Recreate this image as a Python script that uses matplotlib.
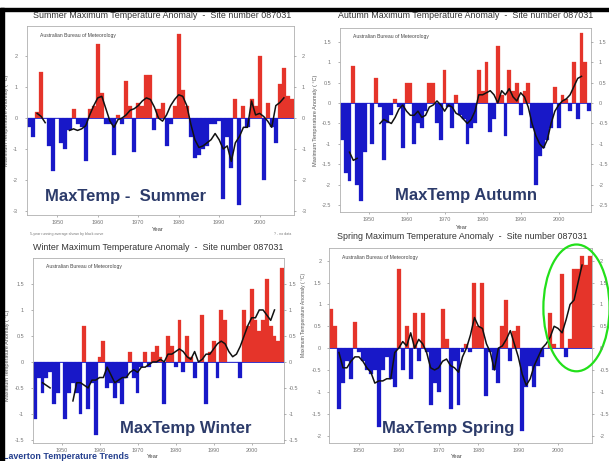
import numpy as np
import matplotlib
matplotlib.use("Agg")
import matplotlib.pyplot as plt
from matplotlib.patches import Ellipse, Rectangle

plt.rcParams['font.family'] = ['Liberation Sans', 'DejaVu Sans']

years = np.arange(1943, 2009)

summer = [-0.3, -0.6, 0.2, 1.5, 0.0, -0.9, -1.7, 0.0, -0.8, -1.0,
          -0.4, 0.3, -0.2, -0.3, -1.4, 0.3, 0.4, 2.4, 0.8, -0.2,
          -0.2, -1.2, 0.1, -0.2, 1.2, 0.4, -1.1, 0.5, 0.4, 1.4,
          1.4, -0.4, 0.3, 0.5, -0.9, -0.2, 0.4, 2.7, 0.9, 0.4,
          -0.6, -1.3, -1.2, -1.0, -0.9, -0.2, -0.2, -0.1, -2.6, -0.6,
          -1.6, 0.6, -2.8, 0.4, -0.3, 0.6, 0.4, 2.0, -2.0, 0.5,
          -0.3, -0.8, 1.1, 1.6, 0.7, 0.6]
autumn = [-0.9, -1.7, -1.9, 0.9, -2.0, -2.4, -1.2, 0.0, -1.0, 0.6,
          -0.1, -1.4, -0.5, -0.3, 0.1, -0.1, -1.1, 0.5, 0.5, -1.0,
          -0.5, -0.6, -0.2, 0.5, 0.5, -0.5, -0.9, 0.8, -0.1, -0.6,
          0.2, -0.3, -0.4, -1.0, -0.6, -0.5, 0.8, 0.3, 1.0, -0.7,
          -0.4, 1.4, 0.2, -0.8, 0.8, 0.3, 0.5, -0.3, 0.3, 0.5,
          -0.6, -2.0, -1.3, -1.1, -0.9, -0.6, 0.4, -0.6, 0.2, 0.1,
          -0.2, 1.0, -0.4, 1.7, 1.0, -0.2]
winter = [-1.1, -0.3, -0.6, -0.3, -0.2, -0.8, -0.6, 0.0, -1.1, -0.6,
          -0.4, -0.6, -1.0, 0.7, -0.9, -0.4, -1.4, 0.1, 0.4, -0.5,
          -0.4, -0.7, -0.4, -0.8, -0.3, 0.2, -0.3, -0.6, -0.1, 0.2,
          -0.1, 0.2, 0.3, 0.1, -0.8, 0.5, 0.3, -0.1, 0.8, -0.2,
          0.5, 0.1, -0.3, 0.0, 0.9, -0.8, 0.2, 0.4, -0.3, 1.0,
          0.8, 0.0, 0.0, 0.0, -0.3, 1.0, 0.7, 1.4, 0.8, 0.6,
          0.8, 1.6, 0.7, 0.5, 0.4, 1.8]
spring = [0.9, 0.5, -1.4, -0.8, -0.3, -0.7, 0.6, -0.1, -0.3, -0.5,
          -0.6, -0.5, -1.8, -0.5, -0.2, -0.7, -0.9, 1.8, -0.5, 0.5,
          -0.7, 0.8, -0.3, 0.8, -0.1, -1.3, -0.8, -1.0, 0.9, 0.2,
          -1.4, -0.3, -1.3, -0.1, 0.1, -0.1, 1.5, 0.5, 1.5, -1.1,
          -0.1, -0.5, -0.8, 0.5, 1.1, -0.3, 0.4, 0.5, -1.9, -0.9,
          -0.4, -0.9, -0.4, -0.2, 0.0, 0.8, 0.1, 0.0, 1.7, -0.2,
          0.2, 1.8, 1.8, 2.1, 1.9, 2.1]

# running average curves, 1945-2006 (nan = gap)
line_years = np.arange(1945, 2007)
nan = np.nan
summer_line = [0.15, 0.05, -0.15, nan, nan, nan, nan, nan,
               -0.4, -0.35, -0.4, -0.35, -0.25, 0.1, 0.4, 0.65, 0.7, 0.3,
               -0.1, -0.3, -0.05, 0.0, 0.1, 0.25, 0.3, 0.4, 0.55, 0.65,
               0.6, 0.35, 0.0, -0.1, 0.1, 0.4, 0.6, 0.75, 0.7, 0.4,
               -0.2, -0.7, -0.95, -0.9, -0.8, -0.7, -0.5, -0.7, -1.0, -0.9,
               -1.4, -0.8, -0.6, -0.3, -0.3, 0.55, 0.1, 0.15, 0.05, -0.1,
               -0.3, 0.4, 0.5, 0.65]
autumn_line = [-1.2, -1.4, -1.35, nan, nan, nan, nan, nan,
               -0.5, -0.4, -0.45, -0.5, -0.35, -0.15, -0.05, -0.2, -0.3, -0.3,
               -0.2, -0.35, -0.3, -0.1, -0.05, 0.05, -0.05, -0.2, -0.05, -0.1,
               -0.25, -0.3, -0.4, -0.5, -0.4, -0.2, 0.2, 0.2, 0.25, 0.3,
               0.2, 0.0, 0.3, 0.2, 0.35, 0.15, 0.05, 0.25, 0.15, -0.1,
               -0.5, -0.8, -1.0, -1.1, -0.9, -0.5, -0.2, -0.05, 0.05, 0.1,
               0.2, 0.4, 0.6, 0.65]
winter_line = [-0.4, -0.45, -0.5, nan, nan, nan, nan, nan,
               -0.75, -0.4, -0.4, -0.45, -0.5, -0.35, -0.35, -0.3, -0.3, -0.1,
               -0.25, -0.4, -0.35, -0.3, -0.3, -0.2, -0.15, -0.2, -0.1, -0.1,
               -0.05, 0.0, 0.0, 0.05, 0.0, 0.15, 0.15, 0.2, 0.25, 0.2,
               0.1, 0.05, 0.2, 0.0, 0.05, 0.15, 0.15, 0.25, 0.35, 0.4,
               0.35, 0.2, 0.1, 0.15, 0.3, 0.5, 0.7, 0.85, 0.85, 1.0,
               1.0, 0.9, 0.8, 1.0]
spring_line = [-0.1, -0.45, -0.45, -0.3, -0.2, -0.2, -0.3, -0.45,
               -0.55, -0.8, -0.75, -0.75, -0.7, -0.7, -0.1, 0.0, 0.15, 0.05,
               0.35, 0.0, 0.2, 0.1, -0.1, -0.45, -0.5, -0.45, -0.3, -0.25,
               -0.4, -0.45, -0.55, -0.2, 0.0, 0.3, 0.7, 0.5, 0.45, 0.1,
               -0.1, -0.5, 0.0, 0.05, 0.2, 0.4, 0.1, -0.2, -0.6, -0.85,
               -0.7, -0.4, -0.2, 0.0, 0.1, 0.25, 0.5, 0.45, 0.35, 0.65,
               1.0, 1.1, 1.5, 1.9]

W, H = 609, 461
RED = '#e5342a'
BLUE = '#1818c8'
NAVY = '#2c3b6a'

fig = plt.figure(figsize=(W / 100, H / 100), dpi=100)
fig.patch.set_facecolor('white')


def px_axes(x0, y0, x1, y1):
    return fig.add_axes([x0 / W, 1 - y1 / H, (x1 - x0) / W, (y1 - y0) / H])


def ftext(x, y, s, **kw):
    fig.text(x / W, 1 - y / H, s, **kw)


def panel(box, vals, line, ylim, yticks, title, title_xy, left_pad=5, right_pad=4):
    ax = px_axes(*box)
    vals = np.array(vals)
    cols = [RED if v > 0 else BLUE for v in vals]
    ax.bar(years, vals, width=1.0, color=cols, edgecolor=cols, linewidth=0.2)
    ax.axhline(0, color=BLUE, lw=0.6, zorder=1)
    ax.plot(line_years, line, color='#111111', lw=1.1, zorder=3)
    ax.set_xlim(1942.5, 2008.5)
    ax.set_ylim(*ylim)
    ax.set_xticks([1950, 1960, 1970, 1980, 1990, 2000])
    ax.set_yticks(yticks)
    ax.set_yticklabels([('%g' % t) for t in yticks])
    ax.tick_params(labelsize=4, colors='#777777', length=1.5, width=0.4, pad=2)
    ax.tick_params(axis='y', pad=left_pad)
    for s in ax.spines.values():
        s.set_color('#b0b0b0')
        s.set_linewidth(0.6)
    # right-hand scale
    ax_r = ax.twinx()
    ax_r.set_ylim(*ylim)
    ax_r.set_yticks(yticks)
    ax_r.set_yticklabels([('%g' % t) for t in yticks])
    ax_r.tick_params(labelsize=4, colors='#777777', length=1.5, width=0.4,
                     pad=right_pad)
    for s in ax_r.spines.values():
        s.set_visible(False)
    ax.text(0.05, 0.965, 'Australian Bureau of Meteorology', transform=ax.transAxes,
            fontsize=3.6, color='#444444', va='top', ha='left')
    ftext(title_xy[0], title_xy[1], title, fontsize=6.4, color='#333333',
          ha='center', va='center')
    return ax


ax1 = panel((27, 26, 294, 215), summer, summer_line, (-3.13, 2.97),
            [-3, -2, -1, 0, 1, 2],
            'Summer Maximum Temperature Anomaly  -  Site number 087031', (162, 15))
ax2 = panel((340, 28, 591, 212), autumn, autumn_line, (-2.66, 1.83),
            [-2.5, -2, -1.5, -1, -0.5, 0, 0.5, 1, 1.5],
            'Autumn Maximum Temperature Anomaly  -  Site number 087031', (466, 15))
ax3 = panel((33, 258, 284, 443), winter, winter_line, (-1.56, 2.0),
            [-1.5, -1, -0.5, 0, 0.5, 1, 1.5],
            'Winter Maximum Temperature Anomaly  -  Site number 087031', (158, 247),
            right_pad=2)
ax4 = panel((329, 248, 592, 443), spring, spring_line, (-2.17, 2.29),
            [-2, -1.5, -1, -0.5, 0, 0.5, 1, 1.5, 2],
            'Spring Maximum Temperature Anomaly  -  Site number 087031', (462, 236),
            left_pad=4)

# axis titles
ylab = 'Maximum Temperature Anomaly ( °C)'
ftext(7, 120, ylab, fontsize=4, color='#555555', rotation=90, ha='center', va='center')
ftext(315, 120, ylab, fontsize=4, color='#555555', rotation=90, ha='center', va='center')
ftext(8, 355, ylab, fontsize=4, color='#555555', rotation=90, ha='center', va='center')
ftext(303, 315, ylab, fontsize=3.6, color='#555555', rotation=90, ha='center', va='center')
for x, y in [(158, 229), (462, 227), (153, 456), (457, 456)]:
    ftext(x, y, 'Year', fontsize=4.2, color='#444444', ha='center', va='center')
ftext(30, 234, '5-year running average shown by black curve', fontsize=2.6,
      color='#777777', ha='left', va='center')
ftext(283, 234, '? - no data', fontsize=2.6, color='#777777', ha='center', va='center')

# overlay labels
ftext(45, 197, 'MaxTemp -  Summer', fontsize=12, fontweight='bold', color=NAVY,
      ha='left', va='center')
ftext(395, 195, 'MaxTemp Autumn', fontsize=12, fontweight='bold', color=NAVY,
      ha='left', va='center')
ftext(120, 428, 'MaxTemp Winter', fontsize=12, fontweight='bold', color=NAVY,
      ha='left', va='center')
ftext(382, 428, 'MaxTemp Spring', fontsize=12, fontweight='bold', color=NAVY,
      ha='left', va='center')
ftext(3, 456, 'Laverton Temperature Trends', fontsize=6.4, fontweight='bold',
      color='#25408f', ha='left', va='center')

# green ellipse around recent spring years
ax4.add_patch(Ellipse((2004.6, 0.92), width=16.6, height=2.9, fill=False,
                      edgecolor='#22e01a', lw=1.6, clip_on=False, zorder=5))

# black frame lines of the slide
fig.patches.append(Rectangle((0, 1 - 11 / H), 1, 3 / H, transform=fig.transFigure,
                             color='black', zorder=10))
fig.patches.append(Rectangle((0, 0), 4 / W, 1 - 8 / H, transform=fig.transFigure,
                             color='black', zorder=10))

fig.savefig('out.png', dpi=100)
